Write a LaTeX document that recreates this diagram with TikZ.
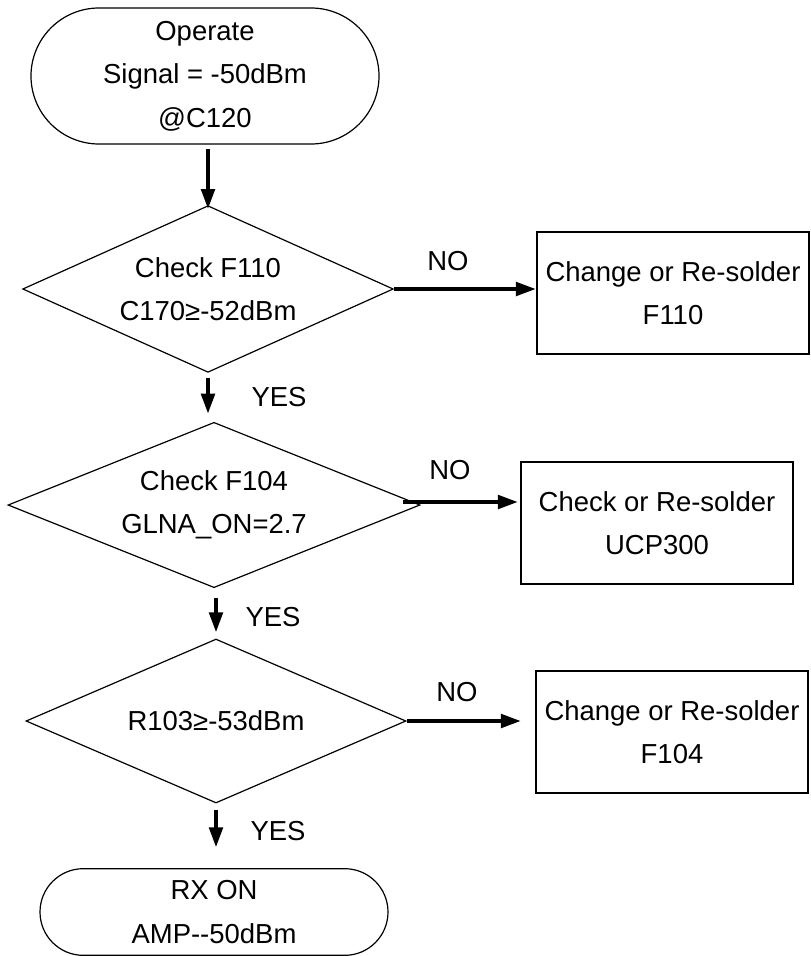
\documentclass[tikz,border=0pt]{standalone}
\usepackage{fontspec}
\setmainfont{Liberation Sans}
\usetikzlibrary{shapes.geometric,shapes.misc,arrows.meta}

\tikzset{
  term/.style={rounded rectangle, draw, line width=0.9pt, minimum width=261pt, inner sep=0pt, align=center},
  test/.style={diamond, draw, line width=0.9pt, inner sep=0pt, align=center},
  fixbox/.style={rectangle, draw, line width=1.6pt, minimum width=204pt, minimum height=91pt, inner sep=0pt, align=center},
  flow/.style={line width=3pt, -{Triangle[length=15pt,width=10pt]}},
}

\begin{document}
\begin{tikzpicture}[x=0.75pt, y=-0.75pt, font=\fontsize{20.6pt}{32.5pt}\selectfont]
  \useasboundingbox (0,0) rectangle (810,956);

  % Start
  \node[term, minimum height=102pt] (start) at (205,76) {Operate\\Signal = -50dBm\\@C120};

  % Tests
  \node[test, aspect=2.2, minimum width=278pt, minimum height=125pt] (chkF110) at (208,289) {Check F110\\C170≥-52dBm};
  \node[test, aspect=2.5, minimum width=309pt, minimum height=124pt] (chkF104) at (214,505) {Check F104\\GLNA\_ON=2.7};
  \node[test, aspect=2.3, minimum width=285pt, minimum height=123pt] (chkR103) at (216,721) {R103≥-53dBm};

  % Repairs
  \node[fixbox] (chgF110) at (673,293) {Change or Re-solder\\F110};
  \node[fixbox] (chkUCP) at (657,523) {Check or Re-solder\\UCP300};
  \node[fixbox] (chgF104) at (672,732) {Change or Re-solder\\F104};

  % End
  \node[term, minimum height=65pt] (rxon) at (214,912) {RX ON\\AMP-{}-50dBm};

  % Main flow
  \draw[flow] ([yshift=-3pt]start.south -| chkF110.north) -- ([yshift=-3pt]chkF110.north);
  \draw[flow] ([yshift=-4pt]chkF110.south) -- ([yshift=6pt]chkF110.south |- chkF104.north);
  \draw[flow] ([yshift=-7pt]chkF104.south -| chkR103.north) -- ([yshift=4.5pt]chkR103.north);
  \draw[flow] ([yshift=-4.5pt]chkR103.south) -- ([yshift=15.5pt]chkR103.south |- rxon.north);

  % NO branches
  \draw[flow] (chkF110.east) -- (chkF110.east -| chgF110.west);
  \draw[flow] ([xshift=-13.5pt,yshift=2.25pt]chkF104.east) -- ([yshift=2.25pt,xshift=-1.5pt]chkF104.east -| chkUCP.west);
  \draw[flow] (chkR103.east) -- ([xshift=-10.5pt]chkR103.east -| chgF104.west);

  % Labels
  \node (noA) at (448,261) {NO};
  \node (noB) at (450,470) {NO};
  \node (noC) at (457,692) {NO};
  \node (yesA) at (279,397) {YES};
  \node (yesB) at (273,617) {YES};
  \node (yesC) at (278,831) {YES};
\end{tikzpicture}
\end{document}
